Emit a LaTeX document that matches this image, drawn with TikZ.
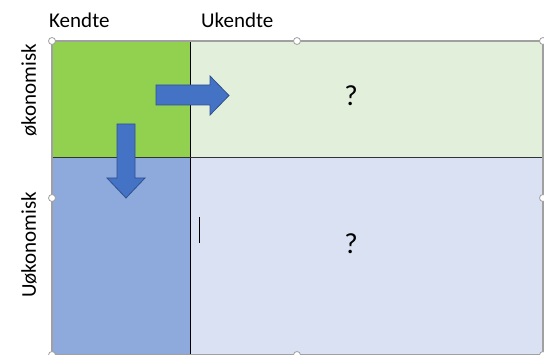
\documentclass[tikz,border=0pt]{standalone}
\usepackage{fontspec}
\setmainfont{Carlito}
\definecolor{dgreen}{HTML}{92D050}
\definecolor{lgreen}{HTML}{E2EFDA}
\definecolor{dblue}{HTML}{8EA9DB}
\definecolor{lblue}{HTML}{D9E1F2}
\definecolor{arrfill}{HTML}{4472C4}
\definecolor{arrline}{HTML}{2F528F}
\definecolor{handle}{HTML}{A0A0A0}
\tikzset{
  cell/.style={inner sep=0pt, outer sep=0pt},
  lbl/.style={font=\fontsize{21}{25}\selectfont, inner sep=0pt},
  qm/.style={font=\fontsize{29}{33}\selectfont, inner sep=0pt},
  blockarrow/.style={fill=arrfill, draw=arrline, line width=0.8pt, line join=miter},
  hnd/.style={circle, draw=handle, fill=white, line width=0.8pt, minimum size=7pt, inner sep=0pt},
}
\begin{document}
\begin{tikzpicture}[x=1pt,y=-1pt]
\useasboundingbox (0,0) rectangle (544,355);
% cells
\fill[dgreen] (52,41) rectangle (190,157);
\fill[lgreen] (190,41) rectangle (543,157);
\fill[dblue] (52,157) rectangle (190,355);
\fill[lblue] (190,157) rectangle (543,355);
\coordinate (tl) at (52,41);
\coordinate (br) at (543,355);
% dividers
\draw[black, line width=0.9pt] (190,41) -- (190,355);
\draw[black!80, line width=0.9pt] (52,157) -- (543,157);
% outer border
\draw[handle, line width=1.4pt] (tl) rectangle (br);
% labels
\node[lbl, anchor=base west] (kendte) at (49,28) {Kendte};
\node[lbl, anchor=base west] (ukendte) at (201,28) {Ukendte};
\node[lbl, rotate=90] (oko) at (29,90) {økonomisk};
\node[lbl, rotate=90] (uoko) at (29,245) {Uøkonomisk};
\node[qm] (q1) at (351,96) {?};
\node[qm] (q2) at (351,244) {?};
% text cursor
\draw[black, line width=0.7pt] (199.5,217) -- (199.5,243);
% arrows
\draw[blockarrow] (156,85) -- (210,85) -- (210,76) -- (229,95.5) -- (210,115) -- (210,105) -- (156,105) -- cycle;
\draw[blockarrow] (117,124) -- (135,124) -- (135,178) -- (145,178) -- (126,198) -- (107,178) -- (117,178) -- cycle;
% selection handles
\node[hnd] (h1) at (52,41) {};
\node[hnd] (h2) at (297,41) {};
\node[hnd] (h3) at (543,41) {};
\node[hnd] (h4) at (52,198) {};
\node[hnd] (h5) at (543,198) {};
\node[hnd] (h6) at (52,355) {};
\node[hnd] (h7) at (297,355) {};
\node[hnd] (h8) at (543,355) {};
\end{tikzpicture}
\end{document}
